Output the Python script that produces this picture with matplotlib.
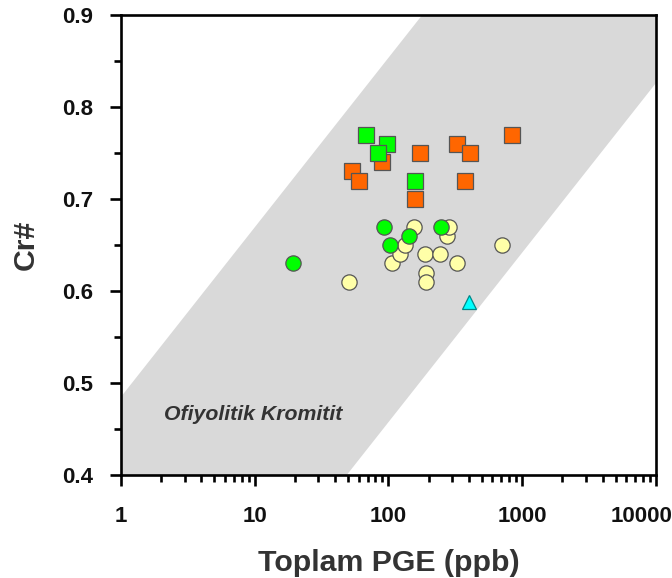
import numpy as np
import matplotlib
matplotlib.use("Agg")
import matplotlib.pyplot as plt
import matplotlib.transforms as mtransforms
from matplotlib.ticker import LogLocator, FixedLocator, NullFormatter

plt.rcParams['font.family'] = ['Liberation Sans', 'DejaVu Sans']

# field band (ophiolitic chromitite), straight lines in log-x space
band_x = [1, 10000]
band_lo = [0.089, 0.826]
band_hi = [0.485, 1.222]

# data: total PGE (ppb) vs Cr#
orange_sq_x = [53, 60, 89, 173, 327, 409, 841, 376, 159]
orange_sq_y = [0.73, 0.72, 0.74, 0.75, 0.76, 0.75, 0.77, 0.72, 0.70]

green_sq_x = [68, 98, 83, 159]
green_sq_y = [0.77, 0.76, 0.75, 0.72]

green_ci_x = [19.2, 93, 102, 143, 249]
green_ci_y = [0.63, 0.67, 0.65, 0.66, 0.67]

yellow_ci_x = [51, 107, 123, 132, 156, 189, 192, 192, 244, 276, 285, 327, 710]
yellow_ci_y = [0.61, 0.63, 0.64, 0.65, 0.67, 0.64, 0.62, 0.61, 0.64, 0.66, 0.67, 0.63, 0.65]

cyan_tri_x = [402]
cyan_tri_y = [0.588]

fig = plt.figure(figsize=(6.72, 5.78), dpi=100)
ax = fig.add_axes([0.180, 0.178, 0.796, 0.796])

ax.fill_between(band_x, band_lo, band_hi, color="#d9d9d9", lw=0, zorder=0)

EDGE = "#555555"
ax.plot(yellow_ci_x, yellow_ci_y, "o", ms=11, mfc="#ffffa8", mec=EDGE, mew=0.9, zorder=3)
ax.plot(green_ci_x, green_ci_y, "o", ms=11, mfc="#00ff00", mec=EDGE, mew=0.9, zorder=4)
ax.plot(orange_sq_x, orange_sq_y, "s", ms=11.8, mfc="#ff6600", mec=EDGE, mew=0.9, zorder=5)
ax.plot(green_sq_x, green_sq_y, "s", ms=11.8, mfc="#00ff00", mec=EDGE, mew=0.9, zorder=6)
ax.plot(cyan_tri_x, cyan_tri_y, "^", ms=10.5, mfc="#00ffff", mec="#008888", mew=0.9, zorder=7)

ax.text(9.7, 0.466, "Ofiyolitik Kromitit", ha="center", va="center",
        fontsize=15.3, fontweight="bold", style="italic", color="#333333")

ax.set_xscale("log")
ax.set_xlim(1, 10000)
ax.set_ylim(0.4, 0.9)
ax.set_xticks([1, 10, 100, 1000, 10000])
ax.set_xticklabels(["1", "10", "100", "1000", "10000"])
ax.xaxis.set_minor_locator(LogLocator(base=10, subs=np.arange(2, 10)))
ax.xaxis.set_minor_formatter(NullFormatter())
ax.set_yticks([0.4, 0.5, 0.6, 0.7, 0.8, 0.9])
ax.set_yticklabels(["0.4", "0.5", "0.6", "0.7", "0.8", "0.9"])
ax.yaxis.set_minor_locator(FixedLocator([0.45, 0.55, 0.65, 0.75, 0.85]))

for s in ax.spines.values():
    s.set_linewidth(1.9)
ax.tick_params(which="major", direction="out", length=8, width=1.9,
               labelsize=16, top=False, right=False)
ax.tick_params(axis="x", which="major", pad=14)
ax.tick_params(axis="y", which="major", pad=12)
ax.tick_params(which="minor", direction="out", length=5, width=1.9,
               top=False, right=False)
for lbl in ax.get_xticklabels() + ax.get_yticklabels():
    lbl.set_fontweight("bold")
    lbl.set_color("#111111")

# last x label pulled left so it fits in the picture
last = ax.get_xticklabels()[-1]
last.set_transform(last.get_transform() +
                   mtransforms.ScaledTranslation(-14 / 100, 0, fig.dpi_scale_trans))

ax.set_xlabel("Toplam PGE (ppb)", fontsize=21.8, fontweight="bold", color="#333333", labelpad=16)
ax.set_ylabel("Cr#", fontsize=21.8, fontweight="bold", color="#333333", labelpad=16)

fig.savefig("out.png", dpi=100)
